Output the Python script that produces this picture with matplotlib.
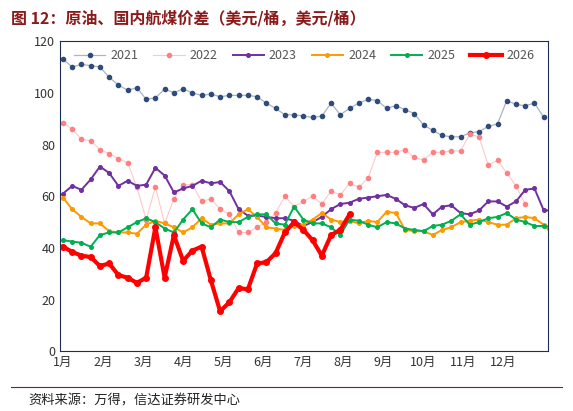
import matplotlib.pyplot as plt
import numpy as np

plt.rcParams['font.family'] = ['Noto Sans CJK SC', 'DejaVu Sans']

months = ['1月', '2月', '3月', '4月', '5月', '6月', '7月', '8月', '9月', '10月', '11月', '12月']

y2021 = [113, 110, 111, 110.5, 110, 106, 103, 101, 102, 97.5, 98, 101.5, 100, 101.5, 100, 99, 99.5, 98.5,
         99, 99, 99, 98.5, 96, 94, 91.5, 91.5, 91, 90.5, 91, 96, 91.5, 94, 96, 97.5, 97, 94, 95, 93.5, 92,
         87.5, 85.5, 83.5, 83, 83, 84.5, 85, 87, 88, 97, 95.5, 95, 96, 90.5]
y2022 = [88.5, 86, 82, 81.5, 78, 76.5, 74.5, 73, 63.5, 51, 63.5, 49.5, 59, 64.5, 64.5, 58, 59, 55, 53,
         46, 46, 48, 50, 53.5, 60, 56, 58, 60, 57, 62, 60.5, 65, 63.5, 67, 77, 77, 77, 78, 75, 74, 77, 77,
         77.5, 77.5, 84, 83, 72, 74, 69, 64, 57]
y2023 = [61, 64, 62.5, 66.5, 71.5, 69, 64, 66, 64, 64.5, 71, 68, 61.5, 63, 64, 66, 65, 65.5, 62, 55,
         52.5, 52.5, 52, 51.5, 51.5, 50.5, 48.5, 50, 52, 55, 57, 57.5, 59, 59.5, 60, 60.5, 59, 56.5, 55.5,
         57, 53, 56, 56.5, 53.5, 53, 54.5, 58, 58, 56, 58, 62.5, 63, 54.5, 54.5]
y2024 = [59.5, 55, 52, 49.5, 49.5, 46.5, 46, 46, 45.5, 49, 50.5, 49.5, 48, 46, 48, 51.5, 49, 49.5,
         49.5, 53, 55, 52, 48, 47.5, 47, 48.5, 49, 51, 53.5, 51, 50, 50.5, 49.5, 50.5, 50, 54, 53.5, 47,
         46.5, 46.5, 45, 47, 48, 50, 50.5, 51, 50, 49, 49, 51.5, 52, 51.5, 49, 45]
y2025 = [43, 42.5, 42, 40.5, 45, 46, 46, 48, 50, 51.5, 50, 47.5, 46, 51, 55, 49.5, 48, 51, 50, 50,
         52, 53, 53, 49.5, 49, 56, 51, 49.5, 49.5, 48, 45, 51, 50.5, 49, 48, 50, 49.5, 47.5, 47, 46.5,
         48.5, 49, 50.5, 53, 49, 50, 51.5, 52, 53.5, 51, 50, 48.5, 48.5, 48, 44]
y2026 = [40.5, 38.5, 37, 36.5, 33, 34, 29.5, 28.5, 26.5, 28.5, 48, 28.5, 45, 35, 39, 40.5, 27.5, 15.5,
         19, 24.5, 24, 34, 34.5, 38, 46, 50, 47, 43, 37, 45, 47, 53]

series = [
    ('2021', y2021, '#2F4B7C', '#A9B4C4', 0.9, 3),
    ('2022', y2022, '#FF8080', '#FFC8C8', 0.8, 3),
    ('2023', y2023, '#7030A0', '#7030A0', 1.4, 2.6),
    ('2024', y2024, '#FF9900', '#FF9900', 1.4, 2.6),
    ('2025', y2025, '#00B050', '#00B050', 1.4, 2.6),
    ('2026', y2026, '#FF0000', '#FF0000', 3, 4),
]

fig = plt.figure(figsize=(5.73, 4.11), dpi=100)
ax = fig.add_axes([0.105, 0.145, 0.852, 0.755])
for name, vals, mc, lc, lw, ms in series:
    x = np.arange(len(vals))
    ax.plot(x, vals, color=lc, lw=lw, marker='o', ms=ms, mfc=mc, mec=mc, label=name)

ax.set_xlim(-0.3, 52.5)
ax.set_ylim(0, 120)
ax.set_yticks(range(0, 121, 20))
ax.set_xticks([i * 52 / 12 for i in range(12)])
ax.set_xticklabels(months)
ax.tick_params(labelsize=9, length=0, colors='#333333')
for s in ax.spines.values():
    s.set_color('#1F2D50')
leg = ax.legend(ncol=6, loc='upper center', bbox_to_anchor=(0.5, 1.01), frameon=False,
                fontsize=9, handlelength=2.5, columnspacing=1.2, handletextpad=0.4)
for t in leg.get_texts():
    t.set_color('#555555')

fig.text(0.02, 0.955, '图 12：原油、国内航煤价差（美元/桶，美元/桶）', fontsize=11.5,
         fontweight='bold', color='#8B1A1A', va='center')
fig.add_artist(plt.Line2D([0.02, 0.98], [0.058, 0.058], color='#8B1A1A', lw=0.8))
fig.text(0.05, 0.025, '资料来源：万得，信达证券研发中心', fontsize=9.5, style='italic',
         color='#222222', va='center')
fig.savefig('out.png', dpi=100)
